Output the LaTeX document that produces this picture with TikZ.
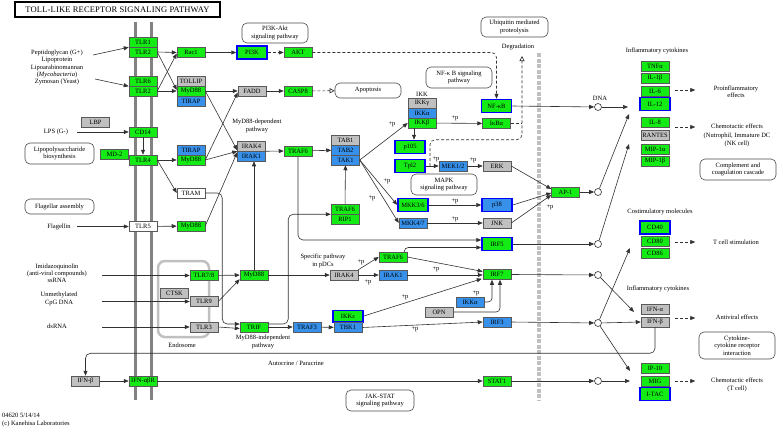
\documentclass[tikz,border=0pt]{standalone}
\usepackage{fontspec}
\setmainfont{Liberation Serif}
\usetikzlibrary{arrows.meta,calc}
\definecolor{kg}{RGB}{20,235,20}
\definecolor{kb}{RGB}{55,145,235}
\definecolor{ky}{RGB}{192,192,192}
\definecolor{kline}{RGB}{50,50,50}
\definecolor{memb}{RGB}{130,130,130}
\begin{document}
\begin{tikzpicture}[x=1pt,y=-1pt,
  font=\fontsize{6.5}{7.5}\selectfont,
  gene/.style={draw=black!65, line width=0.5pt, minimum width=28pt, minimum height=10pt, inner sep=0pt},
  gG/.style={gene, fill=kg},
  gB/.style={gene, fill=kb},
  gY/.style={gene, fill=ky},
  gW/.style={gene, fill=white},
  hl/.style={draw=blue, line width=1.5pt, minimum width=30pt, minimum height=13pt},
  pbox/.style={draw=black!70, line width=0.6pt, rounded corners=5pt, align=center, inner sep=0pt},
  lbl/.style={align=center, inner sep=0pt},
  pp/.style={inner sep=0pt},
  arr/.style={draw=kline, line width=0.6pt, -{Triangle[length=5pt,width=4pt]}},
  ln/.style={draw=kline, line width=0.6pt},
  darr/.style={arr, dash pattern=on 3pt off 2pt},
  dln/.style={ln, dash pattern=on 3pt off 2pt},
  oarr/.style={draw=kline, line width=0.6pt, dash pattern=on 3pt off 2pt, -{Triangle[open,length=5pt,width=5pt]}},
  dot/.style={circle, draw=kline, line width=0.6pt, fill=white, minimum size=7pt, inner sep=0pt}
]
\useasboundingbox (0,0) rectangle (778,431);
\fill[white] (0,0) rectangle (778,431);

% membranes, endosome, band
\draw[memb, line width=3pt] (135,22) -- (135,400);
\draw[memb, line width=3pt] (151,22) -- (151,400);
\node[draw=ky, line width=2.5pt, rounded corners=7pt, minimum width=51pt, minimum height=76pt] (endo) at (183.5,299) {};
\draw[ky, line width=4pt, dash pattern=on 4pt off 1.5pt] (539,53) -- (539,400);

% title
\node[draw, line width=1.4pt, minimum width=205pt, minimum height=15pt, font=\fontsize{8.5}{9}\selectfont\addfontfeature{LetterSpace=2}] (title) at (117.5,9.5) {TOLL-LIKE RECEPTOR SIGNALING PATHWAY};

% pathway boxes
\node[pbox, minimum width=66pt, minimum height=20pt] (pi3kpw) at (275,33) {PI3K-Akt\\signaling pathway};
\node[pbox, minimum width=67pt, minimum height=20pt] (ubq) at (514.5,27) {Ubiquitin mediated\\proteolysis};
\node[pbox, minimum width=66pt, minimum height=21pt] (nfkbpw) at (459,77.5) {NF-κ B signaling\\pathway};
\node[pbox, minimum width=69pt, minimum height=21pt] (lpsbio) at (59.5,153.5) {Lipopolysaccharide\\biosynthesis};
\node[pbox, minimum width=69pt, minimum height=15pt] (flag) at (59.5,206.5) {Flagellar assembly};
\node[pbox, minimum width=76pt, minimum height=21pt] (compl) at (738,169.5) {Complement and\\coagulation cascade};
\node[pbox, minimum width=76pt, minimum height=27pt] (cytrec) at (737,345.5) {Cytokine-\\cytokine receptor\\interaction};
\node[pbox, minimum width=68pt, minimum height=21pt] (jak) at (380,400.5) {JAK-STAT\\signaling pathway};
\node[pbox, minimum width=66pt, minimum height=15pt] (apop) at (368,90.5) {Apoptosis};
\node[pbox, minimum width=66pt, minimum height=21pt] (mapk) at (444,184.5) {MAPK\\signaling pathway};

% genes
\node[gG] (tlr1) at (143,42) {TLR1};
\node[gG] (tlr2a) at (143,52) {TLR2};
\node[gG] (tlr6) at (143,81) {TLR6};
\node[gG] (tlr2b) at (143,91) {TLR2};
\node[gG] (rac1) at (191,52.5) {Rac1};
\node[gG, hl] (pi3k) at (252,52.5) {PI3K};
\node[gG] (akt) at (298,52.5) {AKT};
\node[gY] (tollip) at (191,81) {TOLLIP};
\node[gG] (myd88a) at (191,91) {MyD88};
\node[gB] (tirapa) at (191,101) {TIRAP};
\node[gY] (fadd) at (252,91) {FADD};
\node[gG] (casp8) at (298,91) {CASP8};
\node[gY] (lbp) at (95.5,122) {LBP};
\node[gG] (cd14) at (143,132) {CD14};
\node[gG] (md2) at (114.5,154) {MD-2};
\node[gG] (tlr4) at (143,160) {TLR4};
\node[gB] (tirapb) at (191,150) {TIRAP};
\node[gG] (myd88b) at (191,160) {MyD88};
\node[gY] (irak4a) at (251.5,146) {IRAK4};
\node[gB] (irak1a) at (251.5,156) {IRAK1};
\node[gG] (traf6a) at (298,151) {TRAF6};
\node[gY] (tab1) at (345.5,140) {TAB1};
\node[gB] (tab2) at (345.5,150) {TAB2};
\node[gB] (tak1) at (345.5,160) {TAK1};
\node[lbl] (ikklbl) at (422,94.5) {IKK};
\node[gY] (ikkg) at (422,103) {IKKγ};
\node[gB] (ikka) at (422,113) {IKKα};
\node[gG] (ikkb) at (422,123) {IKKβ};
\node[gG, hl] (nfkb) at (496.5,106) {NF-κB};
\node[gG] (ikba) at (496.5,123.5) {IκBα};
\node[gG, hl] (p105) at (410,147) {p105};
\node[gG, hl] (tpl2) at (410,166) {Tpl2};
\node[gB] (mek) at (453,166) {MEK1/2};
\node[gY] (erk) at (497,166) {ERK};
\node[gG, hl] (mkk36) at (413,205) {MKK3/6};
\node[gB, hl] (p38) at (497,205) {p38};
\node[gB] (mkk47) at (413,223) {MKK4/7};
\node[gY] (jnk) at (497,223) {JNK};
\node[gG] (ap1) at (565.5,192) {AP-1};
\node[gW] (tram) at (191,193) {TRAM};
\node[gW] (tlr5) at (143,226.5) {TLR5};
\node[gG] (myd88c) at (191,226) {MyD88};
\node[gG] (traf6b) at (345,209) {TRAF6};
\node[gG] (rip1) at (345,219) {RIP1};
\node[gG, hl] (irf5) at (497,244) {IRF5};
\node[gG] (tlr78) at (204,275.5) {TLR7/8};
\node[gY] (ctsk) at (174.5,293) {CTSK};
\node[gY] (tlr9) at (204,301.5) {TLR9};
\node[gY] (tlr3) at (204,327) {TLR3};
\node[gG] (myd88d) at (254,275) {MyD88};
\node[gG] (trif) at (254,327) {TRIF};
\node[gY] (irak4b) at (344,275) {IRAK4};
\node[gB] (irak1b) at (393,275) {IRAK1};
\node[gG] (traf6c) at (393,257) {TRAF6};
\node[gG] (irf7) at (497,274.5) {IRF7};
\node[gB] (traf3) at (307,327) {TRAF3};
\node[gG, hl, minimum height=11.5pt] (ikke) at (348,316) {IKKε};
\node[gB] (tbk1) at (348,327.5) {TBK1};
\node[gB] (ikka2) at (470,302) {IKKα};
\node[gY] (opn) at (439,312) {OPN};
\node[gB] (irf3) at (497,322) {IRF3};
\node[gG] (tnfa) at (655,66) {TNFα};
\node[gG] (il1b) at (655,78) {IL-1β};
\node[gG] (il6) at (655,91) {IL-6};
\node[gG, hl] (il12) at (655,104) {IL-12};
\node[gG] (il8) at (655,122) {IL-8};
\node[gY] (rantes) at (655,135) {RANTES};
\node[gG] (mip1a) at (655,149) {MIP-1α};
\node[gG] (mip1b) at (655,161) {MIP-1β};
\node[gG, hl] (cd40) at (655,227.5) {CD40};
\node[gG] (cd80) at (655,241.5) {CD80};
\node[gG] (cd86) at (655,253) {CD86};
\node[gY] (ifna) at (655,309) {IFN-α};
\node[gY] (ifnb) at (655,322) {IFN-β};
\node[gG] (ip10) at (655,368) {IP-10};
\node[gG] (mig) at (655,381) {MIG};
\node[gG, hl] (itac) at (655,394) {I-TAC};
\node[gY] (ifnb2) at (85.5,381) {IFN-β};
\node[gG] (ifnr) at (143,381) {IFN-αβR};
\node[gG] (stat1) at (497,381) {STAT1};

% circles
\node[dot] (c1) at (598,107) {};
\node[dot] (c2) at (598,192) {};
\node[dot] (c3) at (598,244) {};
\node[dot] (c4) at (598,275) {};
\node[dot] (c5) at (598,323) {};
\node[dot] (c6) at (598,381) {};

% labels
\node[lbl, font=\fontsize{6.5}{7.2}\selectfont] (lig1) at (57,67.5) {Peptidoglycan (G+)\\Lipoprotein\\Lipoarabinomannan\\(\textit{Mycobacteria})\\Zymosan (Yeast)};
\node[lbl] (lps) at (56,132) {LPS (G-)};
\node[lbl] (flgn) at (59,227) {Flagellin};
\node[lbl, font=\fontsize{6.5}{7.2}\selectfont] (imid) at (57,273) {Imidazoquinolin\\(anti-viral compounds)\\ssRNA};
\node[lbl, font=\fontsize{6.5}{7.6}\selectfont] (cpg) at (59,299) {Unmethylated\\CpG DNA};
\node[lbl] (dsrna) at (57,326) {dsRNA};
\node[lbl] (mydep) at (257,126) {MyD88-dependent\\pathway};
\node[lbl] (degr) at (518,47) {Degradation};
\node[lbl] (dna) at (600,98) {DNA};
\node[lbl] (infc1) at (657,51) {Inflammatory cytokines};
\node[lbl] (proinf) at (736,91.5) {Proinflammatory\\effects};
\node[lbl, font=\fontsize{6.5}{8.5}\selectfont] (chemo1) at (737,135.5) {Chemotactic effects\\(Nutrophil, Immature DC\\(NK cell)};
\node[lbl] (costim) at (660,212) {Costimulatory molecules};
\node[lbl] (tcell) at (736,242) {T cell stimulation};
\node[lbl] (infc2) at (658,289) {Inflammatory cytokines};
\node[lbl] (antiv) at (737,317) {Antiviral effects};
\node[lbl] (chemo2) at (737,385) {Chemotactic effects\\(T cell)};
\node[lbl] (endol) at (182,345) {Endosome};
\node[lbl] (pdc) at (323,261) {Specific pathway\\in pDCs};
\node[lbl] (myind) at (263,342) {MyD88-independent\\pathway};
\node[lbl] (autoc) at (296,363) {Autocrine / Paracrine};
\node[lbl, anchor=north west, align=left] (foot) at (2,413) {04620 5/14/14\\(c) Kanehisa Laboratories};

% +p labels
\foreach \px/\py [count=\i] in {392/124, 455/118, 436/159, 473/160, 387/181, 372/198, 455/201, 455/219, 550/207, 436/269, 361/262, 368/282, 405/297, 476/293, 415/329}
  \node[pp] (pp\i) at (\px,\py) {+p};

% free ends
\coordinate (a1) at (93,55);
\coordinate (a2) at (95,79);
\coordinate (a3) at (77,132);
\coordinate (a4) at (77,226.5);
\coordinate (a5) at (102,275.5);
\coordinate (a6) at (102,301.5);
\coordinate (a7) at (102,327);
\coordinate (t1) at (628,107);
\coordinate (t2) at (629,114);
\coordinate (t3) at (629,144);
\coordinate (t4) at (634,312);
\coordinate (t5) at (630,248);
\coordinate (t6) at (630,371);
\coordinate (t7) at (630,381);
\coordinate (deg) at (522,56);
\coordinate (dsrc) at (430,166);

% ligand arrows
\draw[arr] (a1) -- (tlr1.south west);
\draw[arr] (a2) -- (tlr6.south west);
\draw[arr] (a3) -- (cd14.west);
\draw[arr] (a4) -- (tlr5.west);
\draw[arr] (a5) -- (tlr78.west);
\draw[arr] (a6) -- (tlr9.west);
\draw[arr] (a7) -- (tlr3.west);

% TLR2 complexes
\draw[arr] (tlr2a.east) -- (rac1.west);
\draw[arr] (tlr2a.east) -- ($(myd88a.west)+(0,-1)$);
\draw[arr] (tlr2b.east) -- ($(rac1.west)+(0,1)$);
\draw[arr] (tlr2b.east) -- (myd88a.west);
\draw[arr] (rac1) -- (pi3k);
\draw[darr] (pi3k) -- (akt);
\draw[darr, rounded corners=5pt] (akt.east) -| (nfkb.north);
\draw[arr] (myd88a.east) -- (fadd.west);
\draw[arr] (myd88a.east) -- ($(irak4a.south west)+(0,-1)$);
\draw[arr] (myd88b.east) -- ($(fadd.west)+(0,1.5)$);
\draw[arr] (myd88b.east) -- (irak4a.south west);
\draw[arr] (myd88c.east) -- ($(irak4a.south west)+(0,1)$);
\draw[arr] (fadd) -- (casp8);
\draw[oarr] (casp8) -- (apop);

% TLR4
\draw[arr] (cd14) -- (tlr4);
\draw[arr] (tlr4.east) -- (myd88b.west);
\draw[arr] (tlr4.east) -- (tram.west);
\draw[arr] (tlr5) -- (myd88c);

% IRAK / TRAF6 / TAK1
\draw[arr] (irak4a.south east) -- (traf6a.west);
\draw[arr] (traf6a) -- (tab2);
\draw[arr] (tak1.east) -- (ikkb.west);
\draw[arr] (tak1.east) -- (mkk36.west);
\draw[arr] (tak1.east) -- (mkk47.west);
\draw[arr] (traf6b) -- (tak1);
\draw[arr] ($(ikkb.south)+(-8,0)$) -- ($(p105.north)+(4,0)$);
\draw[arr] (ikkb) -- (ikba);
\draw[arr] (tpl2) -- (mek);
\draw[arr] (mek) -- (erk);
\draw[arr] (mkk36) -- (p38);
\draw[arr] (mkk47) -- (jnk);
\draw[arr] (erk.east) -- ($(ap1.west)+(0,-3)$);
\draw[arr] (p38.east) -- ($(ap1.west)+(0,1)$);
\draw[arr] (jnk.east) -- ($(ap1.west)+(0,3)$);

% degradation dashes
\draw[dln] (ikba.east) -- (ikba.east -| deg);
\draw[oarr, rounded corners=5pt] (dsrc) |- (deg |- p105.north) -- (deg);

% nuclear outputs
\draw[arr] (nfkb.east) -- (c1);
\draw[arr] (c1) -- (t1);
\draw[arr] (ap1) -- (c2);
\draw[arr] (c2) -- (t2);
\draw[arr] (irf5) -- (c3);
\draw[arr] (c3) -- (t3);
\draw[arr] (irf7.east) -- (c4);
\draw[arr] (c4) -- (t4);
\draw[arr] (irf3.east) -- (c5);
\draw[arr] (c5) -- (ifnb.west);
\draw[arr] (c5) -- (t5);
\draw[arr] (c5) -- (t6);
\draw[arr] (stat1) -- (c6);
\draw[arr] (c6) -- (t7);

% effects
\draw[darr] ($(il6.east)+(6,-1)$) -- ($(il6.east)+(26,-1)$);
\draw[darr] ($(il8.east)+(6,5)$) -- ($(il8.east)+(26,5)$);
\draw[darr] ($(cd80.east)+(6,0.5)$) -- ($(cd80.east)+(26,0.5)$);
\draw[darr] ($(ifnb.east)+(6,-4)$) -- ($(ifnb.east)+(26,-4)$);
\draw[darr] ($(mig.east)+(6,0)$) -- ($(mig.east)+(26,0)$);

% TRAF6 to IRF5
\draw[arr, rounded corners=5pt] (traf6a.south) |- ($(irf5.west)+(0,-4)$);
\draw[arr, rounded corners=4pt] ($(traf6c.north east)+(-3,0)$) |- ($(irf5.west)+(0,3.5)$);

% endosomal TLRs
\draw[arr] (tlr78) -- (myd88d);
\draw[arr] (tlr9.east) -- ($(myd88d.south west)+(0,-1)$);
\draw[arr] (tlr3.east) -- ($(trif.west)+(0,1.5)$);
\draw[arr, rounded corners=5pt] (tram.east) -- ++(17,0) |- ($(trif.west)+(0,-3)$);
\draw[arr] (myd88d.north) -- (myd88d.north |- irak1a.south);
\draw[arr] (myd88d) -- (irak4b);
\draw[arr] (irak4b) -- (irak1b);
\draw[arr] (irak4b.north east) -- (traf6c.west);
\draw[arr] (traf6c.east) -- ($(irf7.west)+(0,-3)$);
\draw[arr] (irak1b) -- ($(irf7.west)+(0,0.5)$);
\draw[arr] (trif.east) -- (traf3.west);
\draw[arr, rounded corners=5pt] ($(trif.east)+(0,-3)$) -- ++(20,0) |- (traf6b.south west);
\draw[arr] (traf3) -- (tbk1);
\draw[arr] (ikke.east) -- ($(irf7.south west)+(-1,-1)$);
\draw[arr] (tbk1.east) -- (irf3.west);
\draw[arr, rounded corners=4pt] (ikka2.east) -| ($(irf7.south)+(-5,0)$);
\draw[arr, rounded corners=4pt] (opn.east) -| ($(irf7.south)+(3,0)$);

% IFN feedback
\draw[arr, rounded corners=5pt] (ifnb.south) -- ++(0,26) -| (ifnb2.north);
\draw[arr] (ifnb2) -- (ifnr);
\draw[arr] (ifnr) -- (stat1);
\end{tikzpicture}
\end{document}
